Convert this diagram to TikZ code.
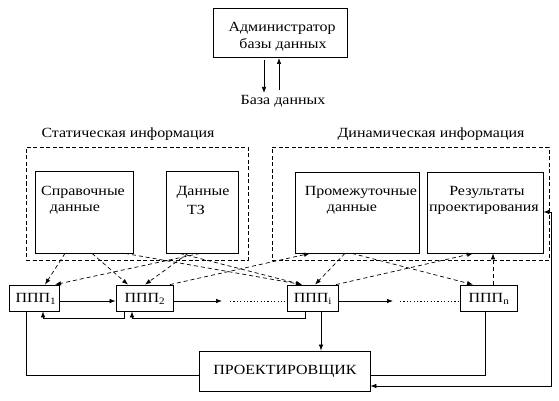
\documentclass[tikz,border=0pt]{standalone}
\usepackage{fontspec}
\setmainfont{Liberation Serif}[FakeStretch=1.14]
\usetikzlibrary{arrows.meta}
\begin{document}
\begin{tikzpicture}[x=1pt,y=-1pt,
  box/.style={draw,line width=0.8pt,inner sep=0pt},
  dbox/.style={draw,dashed,dash pattern=on 4pt off 2.5pt,line width=0.7pt,inner sep=0pt},
  txt/.style={inner sep=0pt,font=\fontsize{14}{16}\selectfont},
  conn/.style={line width=0.7pt},
  arr/.style={line width=0.7pt,-{Latex[length=6pt,width=4.5pt]}},
  darr/.style={line width=0.7pt,dash pattern=on 4pt off 3pt,-{Latex[length=6pt,width=4.5pt]}},
  dotl/.style={line width=0.6pt,dash pattern=on 1.2pt off 2.2pt}]
\useasboundingbox (0,0) rectangle (559,401);
% top
\node[box,minimum width=134pt,minimum height=49pt] (adm) at (280,32.5) {};
\node[txt] (admt1) at (282,28) {Администратор};
\node[txt] (admt2) at (283,45) {базы данных};
\node[txt] (db) at (283,101) {База данных};
\coordinate (d1) at (264,60); \coordinate (d2) at (264,93);
\coordinate (u1) at (279,90); \coordinate (u2) at (279,58);
\draw[arr] (d1) -- (d2);
\draw[arr] (u1) -- (u2);
% titles
\node[txt] (st) at (128,134) {Статическая информация};
\node[txt] (dy) at (431,134) {Динамическая информация};
% dashed groups
\node[dbox,minimum width=222pt,minimum height=113pt] (sg) at (137,203.5) {};
\node[dbox,minimum width=277pt,minimum height=113pt] (dg) at (410.5,203.5) {};
% inner boxes
\node[box,minimum width=98pt,minimum height=82pt] (spr) at (84,212) {};
\node[txt] (sprt1) at (83,192) {Справочные};
\node[txt] (sprt2) at (75,210) {данные};
\node[box,minimum width=72pt,minimum height=82pt] (tz) at (202,212) {};
\node[txt] (tzt1) at (203,192) {Данные};
\node[txt] (tzt2) at (196,210) {ТЗ};
\node[box,minimum width=124pt,minimum height=81pt] (pr) at (357,212.5) {};
\node[txt] (prt1) at (361,192) {Промежуточные};
\node[txt] (prt2) at (352,210) {данные};
\node[box,minimum width=116pt,minimum height=81pt] (rz) at (485,212.5) {};
\node[txt] (rzt1) at (487,192) {Результаты};
\node[txt] (rzt2) at (484,210) {проектирования};
% PPP boxes
\node[box,minimum width=50pt,minimum height=26pt] (p1) at (34,298) {};
\node[txt] (p1t) at (36,299) {ППП\textsubscript{1}};
\node[box,minimum width=57pt,minimum height=26pt] (p2) at (144.5,298) {};
\node[txt] (p2t) at (145,299) {ППП\textsubscript{2}};
\node[box,minimum width=51pt,minimum height=26pt] (pi) at (312.5,298) {};
\node[txt] (pit) at (313,299) {ППП\textsubscript{i}};
\node[box,minimum width=57pt,minimum height=26pt] (pn) at (488.5,298) {};
\node[txt] (pnt) at (489,299) {ППП\textsubscript{n}};
\node[box,minimum width=171pt,minimum height=40pt] (pk) at (284.5,371) {};
\node[txt] (pkt) at (285,371) {ПРОЕКТИРОВЩИК};
% forward arrows
\draw[arr] (p1.east |- 0,301) -- (p2.west |- 0,301);
\coordinate (a2) at (222,301);
\draw[arr] (p2.east |- 0,301) -- (a2);
\coordinate (dt1) at (230,301); \coordinate (dt2) at (285,301);
\draw[dotl] (dt1) -- (dt2);
\coordinate (ai) at (393,301);
\draw[arr] (pi.east |- 0,301) -- (ai);
\coordinate (dt3) at (400,301);
\draw[dotl] (dt3) -- (pn.west |- 0,301);
% return arrows
\draw[arr] (p2.south -| 124,0) |- (43,318) -- (p1.south -| 43,0);
\draw[arr] (pi.south -| 305,0) |- (132,318) -- (p2.south -| 132,0);
% to designer
\draw[arr] (pi.south -| 321,0) -- (pk.north -| 321,0);
\draw[conn] (p1.south -| 26,0) |- (pk.west |- 0,375);
\draw[conn] (pn.south -| 485,0) |- (pk.east |- 0,375);
\draw[conn,{Latex[length=6pt,width=4.5pt]}-{Latex[length=6pt,width=4.5pt]}] (rz.east |- 0,212) -- (551,212) |- (pk.east |- 0,386);
% dashed data arrows
\draw[darr] (spr.south -| 65,0) -- (p1.north -| 45,0);
\draw[darr] (spr.south -| 92,0) -- (p2.north -| 128,0);
\draw[darr] (spr.south -| 125,0) -- (pi.north -| 302,0);
\draw[darr] (tz.south -| 200,0) -- (p1.north -| 55,0);
\draw[darr] (tz.south -| 188,0) -- (p2.north -| 145,0);
\draw[darr] (tz.south -| 180,0) -- (pi.north -| 302,0);
\draw[darr] (p2.north -| 170,0) -- (pr.south -| 310,0);
\draw[darr] (pr.south -| 345,0) -- (pi.north -| 315,0);
\draw[darr] (pr.south -| 352,0) -- (pn.north -| 473,0);
\draw[darr] (pi.north -| 336,0) -- (rz.south -| 473,0);
\draw[darr] (pn.north -| 493,0) -- (rz.south -| 493,0);
\end{tikzpicture}
\end{document}
